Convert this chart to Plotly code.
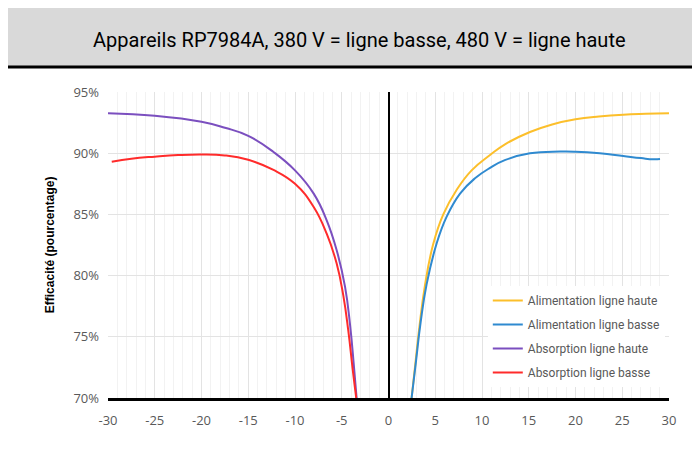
import plotly.graph_objects as go

# Courbes de rendement (x = puissance en kW, y = rendement en %)
x_abs_haute = [-30, -25, -20, -17.5, -15, -12.3, -10, -8, -6.6, -5.55, -4.65, -4.1, -3.7, -3.41]
abs_haute = [93.27, 93.06, 92.57, 92.08, 91.42, 90.1, 88.6, 86.7, 84.5, 82.1, 79.1, 75.9, 72.6, 70.0]

x_abs_basse = [-29.6, -27.5, -25, -22.5, -20, -17.5, -15, -12.3, -10, -8, -6.6, -5.55, -4.84,
               -4.3, -3.84, -3.45]
abs_basse = [89.31, 89.55, 89.72, 89.85, 89.9, 89.82, 89.46, 88.63, 87.5, 85.6, 83.4, 81.0, 78.4,
             75.5, 72.4, 70.0]

x_alim_haute = [2.47, 2.83, 3.29, 3.9, 4.79, 5.86, 7.28, 8.89, 10.86, 12.5, 15.13, 17.5, 20,
                22.5, 25.1, 27.5, 30]
alim_haute = [70.0, 72.5, 75.7, 79.2, 82.6, 85.0, 87.0, 88.6, 89.85, 90.75, 91.73, 92.35, 92.77,
              93.0, 93.15, 93.22, 93.27]

x_alim_basse = [2.47, 2.94, 3.44, 4.08, 5.14, 6.21, 7.65, 9.25, 10.86, 12.5, 15.13, 18.34,
                20, 22.6, 25.1, 27, 28.3, 29.04]
alim_basse = [70.0, 73.0, 76.2, 79.3, 82.6, 84.8, 86.7, 87.95, 88.8, 89.45, 89.99, 90.13,
              90.12, 89.99, 89.77, 89.6, 89.5, 89.52]

x_ticks = list(range(-30, 31, 5))
y_ticks = [70, 75, 80, 85, 90, 95]

series = [
    ("Alimentation ligne haute", x_alim_haute, alim_haute, "#fcbf2b"),
    ("Alimentation ligne basse", x_alim_basse, alim_basse, "#2f8ad0"),
    ("Absorption ligne haute", x_abs_haute, abs_haute, "#7b4fbf"),
    ("Absorption ligne basse", x_abs_basse, abs_basse, "#ff2b2b"),
]

fig = go.Figure()
for i, (name, xs, ys, color) in enumerate(series):
    fig.add_trace(go.Scatter(
        x=xs, y=ys, name=name, mode="lines", legendgroup=str(i),
        line=dict(color=color, width=2, shape="spline", smoothing=1.3),
    ))

# la page ajoute une marge de 8 px autour du graphique
fig.update_layout(
    width=692, height=445,
    margin=dict(l=100, r=31, t=84, b=55),
    plot_bgcolor="white", paper_bgcolor="white",
    font=dict(family="Open Sans, Arial", color="#595959", size=12),
    legend=dict(
        x=0.677, y=0.366, xanchor="left", yanchor="top",
        bgcolor="white", font=dict(size=12, color="#595959", family="Roboto, Arial"),
        tracegroupgap=5, itemwidth=30,
    ),
    xaxis=dict(
        range=[-30, 30], tickvals=x_ticks, ticktext=[str(t) for t in x_ticks],
        showgrid=True, gridcolor="#e3e3e3", gridwidth=1,
        minor=dict(dtick=1, showgrid=True, gridcolor="#f2f2f2"),
        zeroline=True, zerolinecolor="black", zerolinewidth=2,
        showline=True, linecolor="black", linewidth=3,
        ticks="", ticklabelstandoff=8, tickfont=dict(size=13, color="#595959"),
    ),
    yaxis=dict(
        range=[70, 95], tickvals=y_ticks, ticktext=[f"{t}%" for t in y_ticks],
        showgrid=True, gridcolor="#e3e3e3", gridwidth=1,
        zeroline=False, ticks="", ticklabelstandoff=8,
        tickfont=dict(size=13, color="#595959"),
    ),
    shapes=[
        dict(type="rect", xref="paper", yref="paper", x0=-0.18, x1=1.06, y0=1.0817, y1=1.2843,
             fillcolor="#d9d9d9", line=dict(width=0), layer="below"),
        dict(type="line", xref="paper", yref="paper", x0=-0.18, x1=1.06, y0=1.2843, y1=1.2843,
             line=dict(color="black", width=3)),
        dict(type="line", xref="paper", yref="paper", x0=-0.18, x1=1.06, y0=1.0817, y1=1.0817,
             line=dict(color="black", width=3)),
    ],
    annotations=[
        dict(text="Appareils RP7984A, 380 V = ligne basse, 480 V = ligne haute",
             xref="paper", yref="paper", x=0.449, y=1.17, xanchor="center", yanchor="middle",
             showarrow=False,
             font=dict(family="Roboto, Arial", size=20, color="black")),
        dict(text="<b>Efficacité (pourcentage)</b>", textangle=-90,
             xref="paper", yref="paper", x=-0.103, y=0.5, xanchor="center", yanchor="middle",
             showarrow=False,
             font=dict(family="Arial, Liberation Sans", size=12, color="black")),
    ],
)

fig.write_html("out.html")
